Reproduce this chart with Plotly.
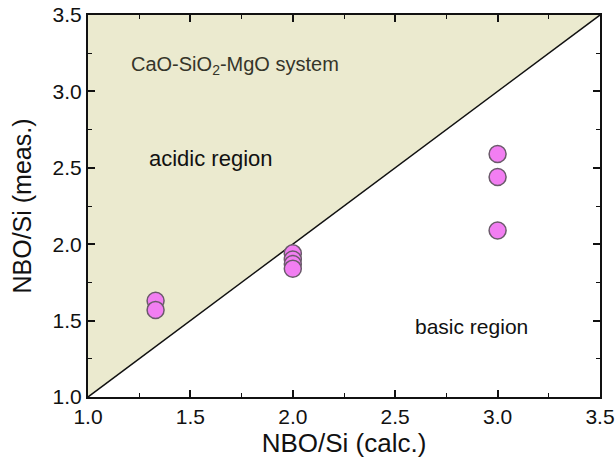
import plotly.graph_objects as go

# Measured vs calculated NBO/Si for CaO-SiO2-MgO slags
nbo_calc = [1.33, 1.33, 2.0, 2.0, 2.0, 2.0, 3.0, 3.0, 3.0]
nbo_meas = [1.63, 1.57, 1.94, 1.90, 1.87, 1.84, 2.59, 2.44, 2.09]

axis_min, axis_max = 1.0, 3.5
tick_vals = [1.0, 1.5, 2.0, 2.5, 3.0, 3.5]
tick_text = ["1.0", "1.5", "2.0", "2.5", "3.0", "3.5"]

font_family = "Liberation Sans, Arial, sans-serif"

fig = go.Figure()

# Shaded acidic region above the 1:1 line
fig.add_trace(go.Scatter(
    x=[axis_min, axis_min, axis_max, axis_min],
    y=[axis_min, axis_max, axis_max, axis_min],
    mode="lines",
    line=dict(width=0),
    fill="toself",
    fillcolor="#ebeacf",
    hoverinfo="skip",
    showlegend=False,
))

# 1:1 line
fig.add_trace(go.Scatter(
    x=[axis_min, axis_max],
    y=[axis_min, axis_max],
    mode="lines",
    line=dict(color="#111111", width=1.5),
    hoverinfo="skip",
    showlegend=False,
))

# Data points
fig.add_trace(go.Scatter(
    x=nbo_calc,
    y=nbo_meas,
    mode="markers",
    marker=dict(size=17, color="#f27ef2",
                line=dict(color="#6b5a6b", width=1.5)),
    showlegend=False,
))

axis_common = dict(
    range=[axis_min, axis_max],
    tickvals=tick_vals,
    ticktext=tick_text,
    ticks="inside",
    ticklen=7,
    tickwidth=1.5,
    tickcolor="#111111",
    minor=dict(dtick=0.25, tick0=1.0, ticks="inside", ticklen=4,
               tickwidth=1.2, tickcolor="#111111", showgrid=False),
    showline=True,
    linecolor="#111111",
    linewidth=2,
    mirror="ticks",
    showgrid=False,
    zeroline=False,
    automargin=False,
    ticklabeloverflow="allow",
    tickfont=dict(family=font_family, size=21, color="#111111"),
)

fig.update_xaxes(
    **axis_common,
    title=dict(text="NBO/Si (calc.)", standoff=6,
               font=dict(family=font_family, size=26, color="#111111")),
)
fig.update_yaxes(
    **axis_common,
    title=dict(text="NBO/Si (meas.)", standoff=14,
               font=dict(family=font_family, size=25, color="#111111")),
)

fig.add_annotation(
    x=1.2, y=3.17, xref="x", yref="y", xanchor="left", yanchor="middle",
    text="CaO-SiO<sub>2</sub>-MgO system", showarrow=False,
    font=dict(family=font_family, size=20, color="#35352a"),
)
fig.add_annotation(
    x=1.29, y=2.56, xref="x", yref="y", xanchor="left", yanchor="middle",
    text="acidic region", showarrow=False,
    font=dict(family=font_family, size=22, color="#111111"),
)
fig.add_annotation(
    x=2.585, y=1.46, xref="x", yref="y", xanchor="left", yanchor="middle",
    text="basic region", showarrow=False,
    font=dict(family=font_family, size=21, color="#111111"),
)

fig.update_layout(
    width=616,
    height=464,
    margin=dict(l=88, r=16, t=15, b=67),
    paper_bgcolor="white",
    plot_bgcolor="white",
    font=dict(family=font_family),
)

fig.write_html("out.html")
